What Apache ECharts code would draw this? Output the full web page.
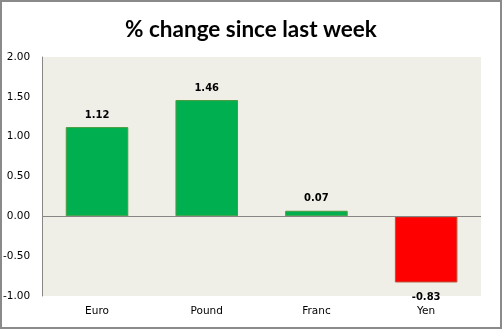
<!DOCTYPE html>
<html>
<head>
<meta charset="utf-8">
<script src="https://cdn.jsdelivr.net/npm/echarts@6/dist/echarts.min.js"></script>
<style>
html,body{margin:0;padding:0;background:#fff;}
#c{width:502px;height:329px;}
</style>
</head>
<body>
<div id="c"></div>
<script>
var categories = ['Euro', 'Pound', 'Franc', 'Yen'];
var values = [1.12, 1.46, 0.07, -0.83];
var yTicks = [-1.00, -0.50, 0.00, 0.50, 1.00, 1.50, 2.00];
var titleText = '% change since last week';

var chart = echarts.init(document.getElementById('c'), null, {renderer: 'canvas'});
var data = values.map(function (v) {
  var pos = v >= 0;
  return {
    value: v,
    itemStyle: {
      color: pos ? '#00B050' : '#FF0000',
      borderColor: pos ? '#4E9A3E' : '#B5553A',
      borderWidth: 1
    },
    label: {position: pos ? 'top' : 'bottom', distance: pos ? 7 : 10}
  };
});
chart.setOption({
  animation: false,
  backgroundColor: '#ffffff',
  title: {
    text: titleText,
    left: 'center',
    top: 13,
    textStyle: {fontFamily: 'Lato', fontWeight: 'bold', fontSize: 22.5, color: '#000'}
  },
  graphic: [{
    type: 'rect',
    shape: {x: 1, y: 1, width: 500, height: 327},
    style: {fill: 'none', stroke: '#8a8a8a', lineWidth: 2},
    silent: true,
    z: 100
  }],
  grid: {
    left: 42, right: 21, top: 57, bottom: 33,
    show: true, backgroundColor: '#EFEFE7', borderWidth: 0,
    containLabel: false
  },
  xAxis: {
    type: 'category',
    data: categories,
    axisLine: {show: false},
    axisTick: {show: false},
    axisLabel: {fontFamily: 'DejaVu Sans', fontSize: 10.5, color: '#000', margin: 10}
  },
  yAxis: {
    type: 'value',
    min: yTicks[0],
    max: yTicks[yTicks.length - 1],
    interval: 0.5,
    axisLine: {show: true, lineStyle: {color: '#868686', width: 1}},
    axisTick: {show: false},
    splitLine: {show: false},
    axisLabel: {
      fontFamily: 'DejaVu Sans', fontSize: 10.5, color: '#000', margin: 12,
      formatter: function (v) { return v.toFixed(2); }
    }
  },
  series: [{
    type: 'bar',
    data: data,
    barWidth: '57%',
    label: {
      show: true,
      fontFamily: 'DejaVu Sans', fontWeight: 'bold', fontSize: 10, color: '#000',
      formatter: function (p) { return p.value.toFixed(2); }
    },
    markLine: {
      silent: true,
      symbol: 'none',
      label: {show: false},
      lineStyle: {color: '#868686', type: 'solid', width: 1},
      data: [{yAxis: 0}]
    }
  }]
});
</script>
</body>
</html>
